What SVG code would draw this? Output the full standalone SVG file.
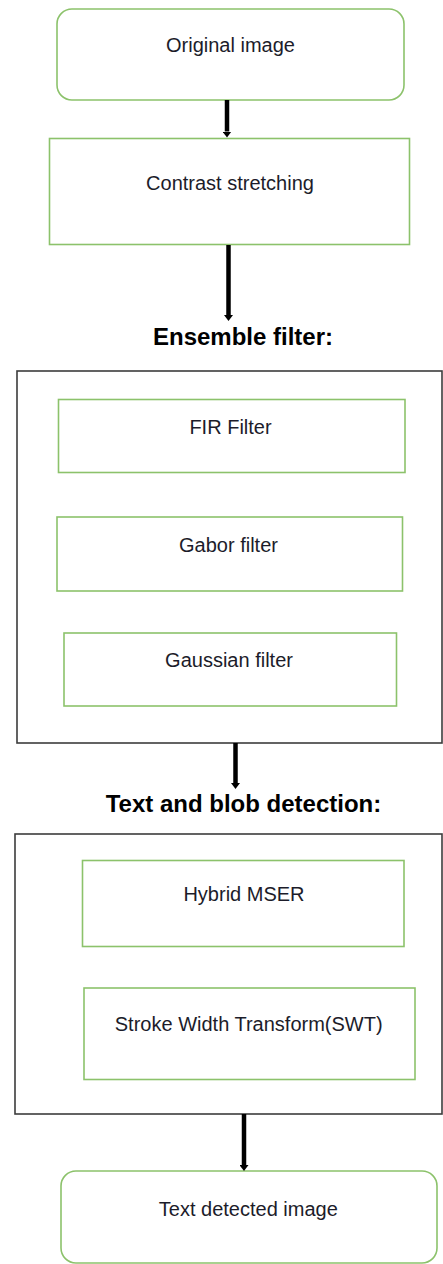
<svg xmlns="http://www.w3.org/2000/svg" width="443" height="1264" viewBox="0 0 443 1264">
<style>
.g{fill:#fff;stroke:#8cc26b;stroke-width:1.6}
.o{fill:#fff;stroke:#3c3c3c;stroke-width:1.6}
.t{font-family:"Liberation Sans",Arial,sans-serif;font-size:20px;fill:#1c1c2a;text-anchor:middle}
.h{font-family:"Liberation Sans",Arial,sans-serif;font-size:24px;font-weight:bold;fill:#000;text-anchor:middle}
.a{stroke:#000;stroke-width:4.5;fill:none}
</style>
<defs>
<marker id="ah" markerUnits="userSpaceOnUse" viewBox="0 0 6 9" refX="0" refY="4.5" markerWidth="6" markerHeight="9" orient="auto">
<path d="M0,0 L6,4.5 L0,9 z" fill="#000"/>
</marker>
</defs>
<rect width="443" height="1264" fill="#fff"/>
<g id="ensemble-group"><rect class="o" x="17" y="371" width="425" height="372"/></g>
<g id="detection-group"><rect class="o" x="15" y="834" width="427" height="280"/></g>
<g id="original"><rect class="g" x="57" y="9" width="347" height="91" rx="15"/><text class="t" x="230.5" y="52">Original image</text></g>
<g id="contrast"><rect class="g" x="49.5" y="138.5" width="360" height="106"/><text class="t" x="230" y="190">Contrast stretching</text></g>
<g id="ensemble-title"><text class="h" x="243" y="345">Ensemble filter:</text></g>
<g id="fir"><rect class="g" x="58.5" y="399.5" width="346.5" height="73"/><text class="t" x="230.5" y="434">FIR Filter</text></g>
<g id="gabor"><rect class="g" x="57" y="517" width="345.5" height="74"/><text class="t" x="228.5" y="552">Gabor filter</text></g>
<g id="gaussian"><rect class="g" x="64" y="633" width="332.5" height="73"/><text class="t" x="229" y="667">Gaussian filter</text></g>
<g id="detection-title"><text class="h" x="243.5" y="812">Text and blob detection:</text></g>
<g id="mser"><rect class="g" x="82.5" y="860.5" width="321.5" height="86"/><text class="t" x="244" y="901">Hybrid MSER</text></g>
<g id="swt"><rect class="g" x="84" y="988" width="331" height="91.5"/><text class="t" x="248.7" y="1031">Stroke Width Transform(SWT)</text></g>
<g id="result"><rect class="g" x="61" y="1171" width="376" height="92" rx="15"/><text class="t" x="248.3" y="1216">Text detected image</text></g>
<g id="connectors">
<line class="a" x1="227" y1="100" x2="227" y2="131.5" marker-end="url(#ah)"/>
<line class="a" x1="228.5" y1="245" x2="228.5" y2="315" marker-end="url(#ah)"/>
<line class="a" x1="235.5" y1="743" x2="235.5" y2="783" marker-end="url(#ah)"/>
<line class="a" x1="244" y1="1114" x2="244" y2="1165" marker-end="url(#ah)"/>
</g>
</svg>
